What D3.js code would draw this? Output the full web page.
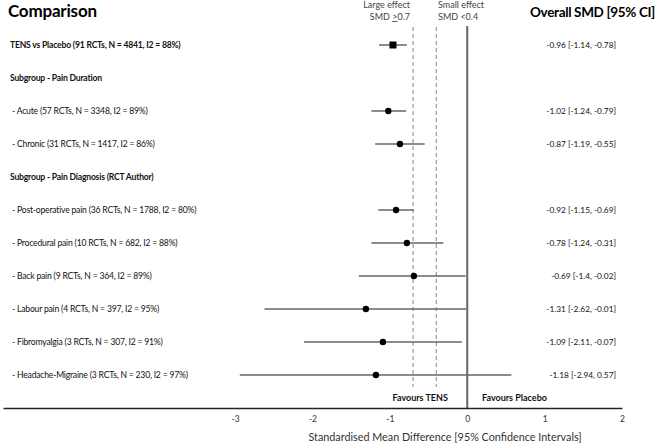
<!DOCTYPE html>
<html><head><meta charset="utf-8">
<script src="https://cdn.jsdelivr.net/npm/d3@7"></script>
<style>
body{margin:0;background:#fff;}
svg{display:block;font-family:Lato, "Open Sans", sans-serif;}
</style></head>
<body>
<svg id="c" width="656" height="448"></svg>
<script>
const rowLabels = [
  "TENS vs Placebo (91 RCTs, N = 4841, I2 = 88%)",
  "Subgroup - Pain Duration",
  " - Acute (57 RCTs, N = 3348, I2 = 89%)",
  " - Chronic (31 RCTs, N = 1417, I2 = 86%)",
  "Subgroup - Pain Diagnosis (RCT Author)",
  " - Post-operative pain (36 RCTs, N = 1788, I2 = 80%)",
  " - Procedural pain (10 RCTs, N = 682, I2 = 88%)",
  " - Back pain (9 RCTs, N = 364, I2 = 89%)",
  " - Labour pain (4 RCTs, N = 397, I2 = 95%)",
  " - Fibromyalgia (3 RCTs, N = 307, I2 = 91%)",
  " - Headache-Migraine (3 RCTs, N = 230, I2 = 97%)"
];
const rowBold = [true, true, false, false, true, false, false, false, false, false, false];
const smd   = [-0.96, null, -1.02, -0.87, null, -0.92, -0.78, -0.69, -1.31, -1.09, -1.18];
const lower = [-1.14, null, -1.24, -1.19, null, -1.15, -1.24, -1.4, -2.62, -2.11, -2.94];
const upper = [-0.78, null, -0.79, -0.55, null, -0.69, -0.31, -0.02, -0.01, -0.07, 0.57];
const markerShape = ["square", null, "circle", "circle", null, "circle", "circle", "circle", "circle", "circle", "circle"];
const tickValues = [-3, -2, -1, 0, 1, 2];
const refLines = [-0.7, -0.4];

const svg = d3.select("#c");
const x = d3.scaleLinear().domain([-6, 2]).range([3, 622]);
const y = d3.scalePoint().domain(d3.range(rowLabels.length)).range([45, 375]);

// reference dashed lines
svg.selectAll("line.ref").data(refLines).join("line")
  .attr("x1", d => x(d)).attr("x2", d => x(d))
  .attr("y1", 27).attr("y2", 387)
  .attr("stroke", "#9a9a9a").attr("stroke-width", 1.2)
  .attr("stroke-dasharray", "4,3");

// zero line
svg.append("line")
  .attr("x1", x(0)).attr("x2", x(0)).attr("y1", 26).attr("y2", 408)
  .attr("stroke", "#666").attr("stroke-width", 2);

// axis
const axis = d3.axisBottom(x).tickValues(tickValues).tickSize(0).tickPadding(8)
  .tickFormat(d => String(d));
const gAx = svg.append("g").attr("transform", "translate(0,408)").call(axis);
gAx.select(".domain").attr("stroke", "#222").attr("stroke-width", 1.5);
gAx.selectAll("text").attr("font-family", "Lato, sans-serif").attr("font-size", 8.5).attr("fill", "#333");

// rows
const rows = d3.range(rowLabels.length);
svg.selectAll("text.lab").data(rows).join("text")
  .attr("x", 10).attr("y", i => y(i)).attr("dy", "0.35em")
  .attr("font-size", 8.6).attr("letter-spacing", -0.2)
  .attr("font-weight", i => rowBold[i] ? 700 : 400)
  .attr("fill", "#111")
  .attr("xml:space", "preserve")
  .style("white-space", "pre")
  .text(i => rowLabels[i]);

const est = rows.filter(i => smd[i] !== null);
svg.selectAll("line.ci").data(est).join("line")
  .attr("x1", i => x(lower[i])).attr("x2", i => x(upper[i]))
  .attr("y1", i => y(i)).attr("y2", i => y(i))
  .attr("stroke", "#666").attr("stroke-width", 1.5);

svg.selectAll("circle.pt").data(est.filter(i => markerShape[i] === "circle")).join("circle")
  .attr("cx", i => x(smd[i])).attr("cy", i => y(i)).attr("r", 3.2).attr("fill", "#000");
svg.selectAll("rect.pt").data(est.filter(i => markerShape[i] === "square")).join("rect")
  .attr("x", i => x(smd[i]) - 3.5).attr("y", i => y(i) - 3.5)
  .attr("width", 7).attr("height", 7).attr("fill", "#000");

svg.selectAll("text.val").data(est).join("text")
  .attr("x", 616).attr("y", i => y(i)).attr("dy", "0.35em")
  .attr("text-anchor", "end").attr("font-size", 8.3).attr("fill", "#111")
  .text(i => `${smd[i]} [${lower[i]}, ${upper[i]}]`);

// headings
svg.append("text").attr("x", 8).attr("y", 17).attr("font-size", 17).attr("letter-spacing", -0.2)
  .attr("font-weight", 700).attr("fill", "#000").text("Comparison");
svg.append("text").attr("x", 655).attr("y", 17).attr("text-anchor", "end")
  .attr("font-size", 13.5).attr("letter-spacing", -0.35)
  .attr("font-weight", 700).attr("fill", "#000").text("Overall SMD [95% CI]");

// effect labels
const lg = svg.append("text").attr("text-anchor", "end").attr("font-size", 9).attr("fill", "#444");
lg.append("tspan").attr("x", 410).attr("y", 8).text("Large effect");
const l2 = lg.append("tspan").attr("x", 410).attr("y", 20);
l2.append("tspan").text("SMD ");
l2.append("tspan").attr("text-decoration", "underline").text(">");
l2.append("tspan").text("0.7");
const sm = svg.append("text").attr("text-anchor", "start").attr("font-size", 9).attr("fill", "#444");
sm.append("tspan").attr("x", 438).attr("y", 8).text("Small effect");
sm.append("tspan").attr("x", 438).attr("y", 20).text("SMD <0.4");

svg.append("text").attr("x", x(-0.25)).attr("y", 398).attr("dy", "0.35em").attr("text-anchor", "end")
  .attr("font-size", 9).attr("font-weight", 700).attr("fill", "#111").text("Favours TENS");
svg.append("text").attr("x", x(0.19)).attr("y", 398).attr("dy", "0.35em").attr("text-anchor", "start")
  .attr("font-size", 9).attr("font-weight", 700).attr("fill", "#111").text("Favours Placebo");

svg.append("text").attr("x", 445).attr("y", 441).attr("text-anchor", "middle")
  .attr("font-size", 10.8).attr("fill", "#333").text("Standardised Mean Difference [95% Confidence Intervals]");
</script>
</body></html>
